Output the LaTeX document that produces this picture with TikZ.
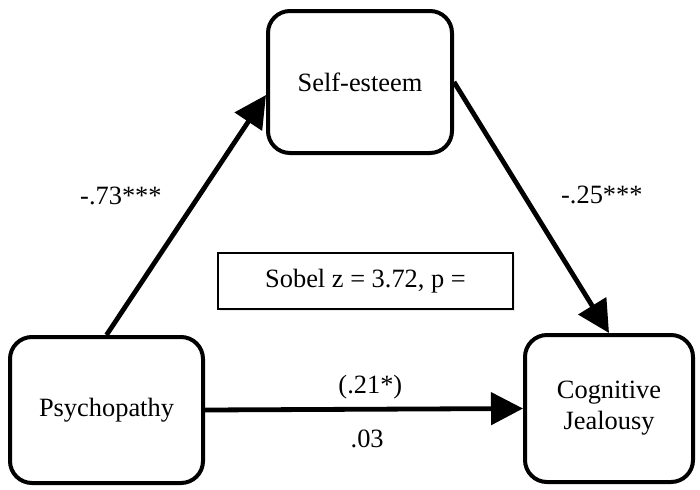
\documentclass[tikz,border=0pt]{standalone}
\usepackage{fontspec}
\setmainfont{Liberation Serif}
\usepackage{tikz}
\usetikzlibrary{arrows.meta,calc,shadows}

\begin{document}
\begin{tikzpicture}[x=1pt,y=1pt,
		font=\fontsize{13.2}{15.5}\selectfont,
		var/.style={draw, line width=2pt, rounded corners=11pt, align=center, fill=white},
		link/.style={-{Triangle[length=16pt,width=16pt]}, line width=2.4pt},
		coef/.style={inner sep=0pt}]
		\useasboundingbox (0,0) rectangle (350,244.5);
		\node[var, minimum width=92pt, minimum height=71pt] (se) at (180,203.5) {Self-esteem};
		\node[var, minimum width=96.5pt, minimum height=73pt] (psy) at (53.25,39.5) {Psychopathy};
		\node[var, minimum width=84pt, minimum height=73.5pt] (cj) at (304.5,40.25) {Cognitive\\Jealousy};
		\node[draw, line width=0.6pt, fill=white, minimum width=147.5pt, minimum height=28pt,
			drop shadow={opacity=0.15, shadow xshift=1.2pt, shadow yshift=-1.2pt}] (sobel) at (182.75,104) {Sobel z = 3.72, p =};
		\path[link]
		(psy.north) edge node [coef, pos=0.58, left=17.5pt] {-.73***} ($(se.west)+(0,-6.5)$)
		(se.east) edge node [coef, pos=0.45, right=17.5pt] {-.25***} (cj.north)
		(psy.east) edge node [coef, pos=0.52, above=4pt] {(.21*)}
		node [coef, pos=0.51, below=9pt] {.03} (cj.west)
		;
\end{tikzpicture}
\end{document}
